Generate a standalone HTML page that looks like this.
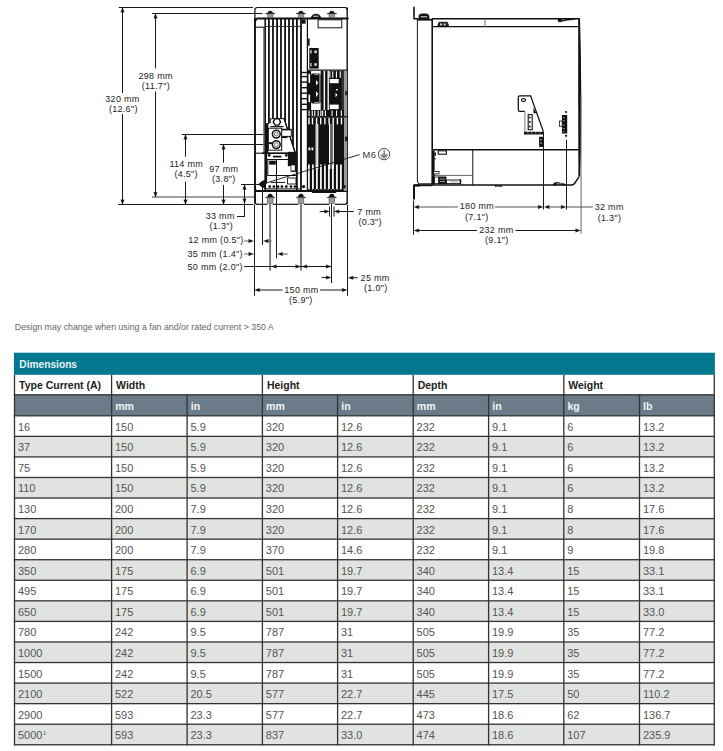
<!DOCTYPE html>
<html><head><meta charset="utf-8"><style>
html,body{margin:0;padding:0;background:#fff;}
body{width:723px;height:751px;position:relative;overflow:hidden;font-family:"Liberation Sans",sans-serif;}
.note{position:absolute;left:14.8px;top:322px;font-size:8.8px;color:#666;white-space:nowrap;}
.th1{position:absolute;font-size:10.2px;font-weight:bold;color:#e8f4f6;white-space:nowrap;line-height:12px;}
.th2{position:absolute;font-size:10.5px;font-weight:bold;color:#222;white-space:nowrap;line-height:12px;}
.th3{position:absolute;font-size:10.6px;font-weight:bold;color:#f2f4f6;white-space:nowrap;line-height:12px;}
.td{position:absolute;font-size:11px;color:#555;white-space:nowrap;line-height:12px;}
.td sup{font-size:6px;vertical-align:top;position:relative;top:-2.5px;margin-left:0.5px;}
</style></head><body>
<svg width="723" height="310" viewBox="0 0 723 310" style="position:absolute;left:0;top:0" font-family="Liberation Sans, sans-serif"><line x1="118.8" y1="7.5" x2="253" y2="7.5" stroke="#1a1a1a" stroke-width="1.0"/><line x1="118" y1="204.5" x2="253.5" y2="204.5" stroke="#1a1a1a" stroke-width="1.0"/><line x1="122.5" y1="8" x2="122.5" y2="93" stroke="#1a1a1a" stroke-width="1.0"/><line x1="122.5" y1="114" x2="122.5" y2="204" stroke="#1a1a1a" stroke-width="1.0"/><polygon points="122.50,7.50 120.75,12.30 122.50,12.00 124.25,12.30" fill="#111" stroke="#111" stroke-width="0.3"/><polygon points="122.50,204.50 120.75,199.70 122.50,200.00 124.25,199.70" fill="#111" stroke="#111" stroke-width="0.3"/><line x1="152" y1="13.5" x2="262.5" y2="13.5" stroke="#1a1a1a" stroke-width="1.0"/><line x1="152" y1="197" x2="254" y2="197" stroke="#444" stroke-width="1.0"/><line x1="155.5" y1="14" x2="155.5" y2="68.5" stroke="#1a1a1a" stroke-width="1.0"/><line x1="155.5" y1="91.5" x2="155.5" y2="196.5" stroke="#1a1a1a" stroke-width="1.0"/><polygon points="155.50,13.50 153.75,18.30 155.50,18.00 157.25,18.30" fill="#111" stroke="#111" stroke-width="0.3"/><polygon points="155.50,197.00 153.75,192.20 155.50,192.50 157.25,192.20" fill="#111" stroke="#111" stroke-width="0.3"/><line x1="181.7" y1="134.5" x2="264.5" y2="134.5" stroke="#1a1a1a" stroke-width="1.0"/><line x1="185.5" y1="135" x2="185.5" y2="156.7" stroke="#1a1a1a" stroke-width="1.0"/><line x1="185.5" y1="181.6" x2="185.5" y2="204" stroke="#1a1a1a" stroke-width="1.0"/><polygon points="185.50,134.50 183.75,139.30 185.50,139.00 187.25,139.30" fill="#111" stroke="#111" stroke-width="0.3"/><polygon points="185.50,204.50 183.75,199.70 185.50,200.00 187.25,199.70" fill="#111" stroke="#111" stroke-width="0.3"/><line x1="219.7" y1="144.5" x2="264.5" y2="144.5" stroke="#1a1a1a" stroke-width="1.0"/><line x1="223.5" y1="145" x2="223.5" y2="162.7" stroke="#1a1a1a" stroke-width="1.0"/><line x1="223.5" y1="185" x2="223.5" y2="204" stroke="#1a1a1a" stroke-width="1.0"/><polygon points="223.50,144.50 221.75,149.30 223.50,149.00 225.25,149.30" fill="#111" stroke="#111" stroke-width="0.3"/><polygon points="223.50,204.50 221.75,199.70 223.50,200.00 225.25,199.70" fill="#111" stroke="#111" stroke-width="0.3"/><line x1="241.1" y1="184.5" x2="259" y2="184.5" stroke="#1a1a1a" stroke-width="1.0"/><line x1="244.5" y1="185" x2="244.5" y2="216.5" stroke="#1a1a1a" stroke-width="1.0"/><line x1="237" y1="216.5" x2="245" y2="216.5" stroke="#1a1a1a" stroke-width="1.0"/><polygon points="244.50,184.80 242.75,189.60 244.50,189.30 246.25,189.60" fill="#111" stroke="#111" stroke-width="0.3"/><polygon points="244.50,203.50 242.75,198.70 244.50,199.00 246.25,198.70" fill="#111" stroke="#111" stroke-width="0.3"/><line x1="254.5" y1="205" x2="254.5" y2="295.8" stroke="#1a1a1a" stroke-width="1.0"/><line x1="347.5" y1="205" x2="347.5" y2="295.8" stroke="#1a1a1a" stroke-width="1.0"/><line x1="262.5" y1="186" x2="262.5" y2="245" stroke="#1a1a1a" stroke-width="1.0"/><line x1="276.5" y1="159" x2="276.5" y2="258.4" stroke="#1a1a1a" stroke-width="1.0"/><line x1="270.1" y1="203.5" x2="270.1" y2="270.6" stroke="#7a7a7a" stroke-width="1.9"/><line x1="301.0" y1="203.5" x2="301.0" y2="270.4" stroke="#7a7a7a" stroke-width="1.9"/><line x1="331.5" y1="203.5" x2="331.5" y2="283" stroke="#1a1a1a" stroke-width="1.0"/><line x1="244.1" y1="241" x2="250" y2="241" stroke="#666" stroke-width="1.0"/><polygon points="253.40,241.00 248.60,239.25 248.90,241.00 248.60,242.75" fill="#111" stroke="#111" stroke-width="0.3"/><line x1="266" y1="241" x2="271.6" y2="241" stroke="#555" stroke-width="1.0"/><polygon points="263.60,241.00 268.40,239.25 268.10,241.00 268.40,242.75" fill="#111" stroke="#111" stroke-width="0.3"/><line x1="244.1" y1="254" x2="250" y2="254" stroke="#666" stroke-width="1.0"/><polygon points="253.40,254.00 248.60,252.25 248.90,254.00 248.60,255.75" fill="#111" stroke="#111" stroke-width="0.3"/><line x1="281" y1="254" x2="287.7" y2="254" stroke="#555" stroke-width="1.0"/><polygon points="277.80,254.00 282.60,252.25 282.30,254.00 282.60,255.75" fill="#111" stroke="#111" stroke-width="0.3"/><line x1="244.1" y1="266.5" x2="331" y2="266.5" stroke="#1a1a1a" stroke-width="1.0"/><polygon points="271.60,266.50 276.40,264.75 276.10,266.50 276.40,268.25" fill="#111" stroke="#111" stroke-width="0.3"/><polygon points="300.40,266.50 295.60,264.75 295.90,266.50 295.60,268.25" fill="#111" stroke="#111" stroke-width="0.3"/><polygon points="302.20,266.50 307.00,264.75 306.70,266.50 307.00,268.25" fill="#111" stroke="#111" stroke-width="0.3"/><polygon points="330.90,266.50 326.10,264.75 326.40,266.50 326.10,268.25" fill="#111" stroke="#111" stroke-width="0.3"/><line x1="329.5" y1="206.5" x2="329.5" y2="216.6" stroke="#1a1a1a" stroke-width="1.0"/><line x1="334.0" y1="206.5" x2="334.0" y2="216.6" stroke="#1a1a1a" stroke-width="1.0"/><line x1="319.7" y1="211.5" x2="326" y2="211.5" stroke="#1a1a1a" stroke-width="1.0"/><polygon points="329.30,211.50 324.50,209.75 324.80,211.50 324.50,213.25" fill="#111" stroke="#111" stroke-width="0.3"/><line x1="337" y1="211.5" x2="353.8" y2="211.5" stroke="#1a1a1a" stroke-width="1.0"/><polygon points="334.30,211.50 339.10,209.75 338.80,211.50 339.10,213.25" fill="#111" stroke="#111" stroke-width="0.3"/><line x1="321.6" y1="277.5" x2="328" y2="277.5" stroke="#1a1a1a" stroke-width="1.0"/><polygon points="330.90,277.50 326.10,275.75 326.40,277.50 326.10,279.25" fill="#111" stroke="#111" stroke-width="0.3"/><line x1="351" y1="277.8" x2="357.6" y2="277.8" stroke="#1a1a1a" stroke-width="1.0"/><polygon points="348.40,277.80 353.20,276.05 352.90,277.80 353.20,279.55" fill="#111" stroke="#111" stroke-width="0.3"/><line x1="256" y1="290" x2="282.5" y2="290" stroke="#1a1a1a" stroke-width="1.0"/><line x1="320.1" y1="290" x2="345" y2="290" stroke="#1a1a1a" stroke-width="1.0"/><polygon points="254.90,290.00 259.70,288.25 259.40,290.00 259.70,291.75" fill="#111" stroke="#111" stroke-width="0.3"/><polygon points="346.90,290.00 342.10,288.25 342.40,290.00 342.10,291.75" fill="#111" stroke="#111" stroke-width="0.3"/><path d="M254.9,204.3 L254.9,10 Q254.9,7.5 257.4,7.5 L344.8,7.5 Q347.3,7.5 347.3,10" fill="none" stroke="#111" stroke-width="1.2"/><line x1="257" y1="204.3" x2="267.2" y2="204.3" stroke="#111" stroke-width="1.2"/><line x1="272.8" y1="204.3" x2="298.2" y2="204.3" stroke="#111" stroke-width="1.2"/><line x1="303.8" y1="204.3" x2="329.2" y2="204.3" stroke="#111" stroke-width="1.2"/><line x1="334.8" y1="204.3" x2="345" y2="204.3" stroke="#111" stroke-width="1.2"/><path d="M254.9,201.5 Q254.9,204.3 257.4,204.3" fill="none" stroke="#111" stroke-width="1.2"/><path d="M345,204.3 Q347.3,204.3 347.3,202" fill="none" stroke="#111" stroke-width="1.2"/><line x1="255.0" y1="18" x2="255.0" y2="202" stroke="#111" stroke-width="1.8"/><line x1="263.8" y1="27.5" x2="263.8" y2="153" stroke="#777" stroke-width="1.4"/><line x1="265.2" y1="18" x2="265.2" y2="191" stroke="#111" stroke-width="1.6"/><line x1="255" y1="27.2" x2="265" y2="27.2" stroke="#111" stroke-width="1.1"/><line x1="255" y1="153.2" x2="265" y2="153.2" stroke="#111" stroke-width="1.1"/><rect x="254.4" y="18" width="2.5" height="2.8" fill="#111"/><line x1="256.5" y1="18.5" x2="348.6" y2="18.5" stroke="#111" stroke-width="2.0"/><path d="M267.59999999999997,13.0 Q267.8,11.0 270.2,10.9 Q272.59999999999997,11.0 272.8,13.0 L274.9,13.6 L274.9,13.899999999999999 L265.5,13.899999999999999 L265.5,13.6 Z" fill="#111" stroke="#111" stroke-width="0.3"/><rect x="267.4" y="13.899999999999999" width="5.6" height="3.6" fill="#999" stroke="#555" stroke-width="0.6"/><rect x="269.5" y="10.0" width="1.4" height="1.0" fill="#ccc"/><path d="M298.4,13.0 Q298.6,11.0 301.0,10.9 Q303.4,11.0 303.6,13.0 L305.7,13.6 L305.7,13.899999999999999 L296.3,13.899999999999999 L296.3,13.6 Z" fill="#111" stroke="#111" stroke-width="0.3"/><rect x="298.2" y="13.899999999999999" width="5.6" height="3.6" fill="#999" stroke="#555" stroke-width="0.6"/><rect x="300.3" y="10.0" width="1.4" height="1.0" fill="#ccc"/><path d="M329.2,13.0 Q329.40000000000003,11.0 331.8,10.9 Q334.2,11.0 334.40000000000003,13.0 L336.5,13.6 L336.5,13.899999999999999 L327.1,13.899999999999999 L327.1,13.6 Z" fill="#111" stroke="#111" stroke-width="0.3"/><rect x="329.0" y="13.899999999999999" width="5.6" height="3.6" fill="#999" stroke="#555" stroke-width="0.6"/><rect x="331.1" y="10.0" width="1.4" height="1.0" fill="#ccc"/><path d="M311.3,18 Q311.6,14.3 316,14.1 Q320.4,14.3 320.7,18 Z" fill="#111" stroke="#111" stroke-width="0.5"/><rect x="313.2" y="15.7" width="5.2" height="1.1" fill="#ccc"/><line x1="268.9" y1="18.5" x2="268.9" y2="191" stroke="#111" stroke-width="1.8"/><line x1="273.0" y1="18.5" x2="273.0" y2="191" stroke="#111" stroke-width="1.8"/><line x1="277.1" y1="18.5" x2="277.1" y2="191" stroke="#111" stroke-width="1.8"/><line x1="281.0" y1="18.5" x2="281.0" y2="191" stroke="#111" stroke-width="1.8"/><line x1="285.1" y1="18.5" x2="285.1" y2="191" stroke="#111" stroke-width="1.8"/><line x1="289.0" y1="18.5" x2="289.0" y2="191" stroke="#111" stroke-width="1.8"/><line x1="293.0" y1="18.5" x2="293.0" y2="191" stroke="#111" stroke-width="1.8"/><line x1="296.9" y1="18.5" x2="296.9" y2="191" stroke="#111" stroke-width="1.8"/><line x1="301.0" y1="18.5" x2="301.0" y2="191" stroke="#111" stroke-width="1.8"/><line x1="265" y1="26.4" x2="301" y2="26.4" stroke="#222" stroke-width="0.9"/><rect x="301.8" y="19.6" width="3.8" height="4.1" fill="#111"/><polygon points="266.20,123.60 268.50,123.60 268.50,122.80 270.30,122.80 270.30,118.80 284.10,118.60 295.40,153.20 266.20,153.20" fill="#fff" stroke="#111" stroke-width="1.0"/><line x1="284.1" y1="118.6" x2="295.4" y2="153.2" stroke="#111" stroke-width="1.3"/><line x1="270.3" y1="126.6" x2="283.6" y2="126.6" stroke="#111" stroke-width="1.1"/><polygon points="280.60,121.90 278.75,125.10 275.05,125.10 273.20,121.90 275.05,118.70 278.75,118.70" fill="#fff" stroke="#111" stroke-width="1.4"/><rect x="281.4" y="129.4" width="9.9" height="7.0" fill="#fff" stroke="#111" stroke-width="1.0"/><line x1="281.4" y1="129.6" x2="290.5" y2="129.6" stroke="#111" stroke-width="1.6"/><rect x="281.4" y="136.3" width="6" height="1.8" fill="#111"/><rect x="268.3" y="128.2" width="13.4" height="22.0" fill="#fff" stroke="#111" stroke-width="1.0"/><circle cx="276.3" cy="134.1" r="3.9" fill="#fff" stroke="#111" stroke-width="1.5"/><circle cx="276.3" cy="134.1" r="1.9" fill="none" stroke="#444" stroke-width="0.8"/><circle cx="276.3" cy="144.6" r="3.9" fill="#fff" stroke="#111" stroke-width="1.5"/><circle cx="276.3" cy="144.6" r="1.9" fill="none" stroke="#444" stroke-width="0.8"/><rect x="268.6" y="142.2" width="3.9" height="1.9" fill="#111"/><rect x="265.5" y="124" width="2.8" height="29" fill="#111"/><rect x="266.5" y="153.5" width="29.5" height="37" fill="#fff"/><line x1="262" y1="153.3" x2="296" y2="153.3" stroke="#111" stroke-width="1.4"/><line x1="266.3" y1="153.3" x2="266.3" y2="183.5" stroke="#111" stroke-width="1.6"/><circle cx="269.2" cy="155.3" r="1.4" fill="#111" stroke="none" stroke-width="0.9"/><circle cx="286.3" cy="155.3" r="1.4" fill="#111" stroke="none" stroke-width="0.9"/><rect x="273" y="155.7" width="8.4" height="1.8" fill="#111"/><line x1="267" y1="159.5" x2="288" y2="159.5" stroke="#111" stroke-width="1.0"/><line x1="267.8" y1="159.5" x2="267.8" y2="175.4" stroke="#111" stroke-width="1.0"/><rect x="269.2" y="160.7" width="6.6" height="3.9" fill="#111"/><path d="M288,151.9 L297,151.9 L297,171.8 L290.8,171.8 L290.8,166 L288,166 Z" fill="#111" stroke="#111" stroke-width="0.3"/><rect x="291.3" y="165.3" width="3.5" height="5.2" fill="#fff"/><line x1="267.5" y1="175.5" x2="297" y2="175.5" stroke="#111" stroke-width="1.0"/><line x1="270.8" y1="182.4" x2="285.2" y2="182.4" stroke="#111" stroke-width="1.0"/><circle cx="269.7" cy="186.6" r="1.4" fill="#111" stroke="none" stroke-width="0.9"/><circle cx="273.9" cy="186.6" r="1.4" fill="#111" stroke="none" stroke-width="0.9"/><circle cx="278" cy="186.6" r="1.4" fill="#111" stroke="none" stroke-width="0.9"/><circle cx="281.9" cy="186.6" r="1.4" fill="#111" stroke="none" stroke-width="0.9"/><circle cx="286.3" cy="186.6" r="1.4" fill="#111" stroke="none" stroke-width="0.9"/><circle cx="291" cy="186.6" r="1.4" fill="#111" stroke="none" stroke-width="0.9"/><circle cx="295" cy="186.6" r="1.4" fill="#111" stroke="none" stroke-width="0.9"/><line x1="266" y1="188.9" x2="300" y2="188.9" stroke="#333" stroke-width="1.3"/><rect x="287.5" y="178" width="8.5" height="6" fill="#fff" stroke="#111" stroke-width="0.9"/><rect x="254.5" y="189.2" width="1.9" height="1.9" fill="#111"/><line x1="276.5" y1="159.5" x2="276.5" y2="191" stroke="#111" stroke-width="1.0"/><polygon points="258.40,184.20 262.00,181.20 265.80,179.60 264.80,184.20 265.80,188.80 262.00,187.20" fill="#111" stroke="#111" stroke-width="0.4"/><line x1="254.6" y1="191.0" x2="348" y2="191.0" stroke="#111" stroke-width="2.0"/><rect x="312" y="191.5" width="24.1" height="1.5" fill="#111"/><line x1="307.4" y1="18.5" x2="307.4" y2="191" stroke="#111" stroke-width="1.2"/><line x1="347.2" y1="7.5" x2="347.2" y2="204" stroke="#111" stroke-width="1.4"/><rect x="318.1" y="19.8" width="23.7" height="8.0" fill="#fff" stroke="#111" stroke-width="1.0"/><rect x="307.7" y="38.5" width="2" height="7.3" fill="#222"/><rect x="309.3" y="48" width="9.4" height="20.6" fill="#111"/><rect x="310.4" y="50" width="1.1" height="3.5" fill="#fff"/><rect x="310.4" y="63" width="1.1" height="3.5" fill="#fff"/><rect x="314.3" y="50.5" width="2.6" height="2.6" fill="#ccc"/><rect x="314.3" y="63.2" width="2.6" height="2.6" fill="#ccc"/><line x1="307.4" y1="70.2" x2="347.2" y2="70.2" stroke="#111" stroke-width="1.2"/><line x1="301.5" y1="72.5" x2="307.4" y2="72.5" stroke="#111" stroke-width="1.4"/><line x1="301.5" y1="76.6" x2="307.4" y2="76.6" stroke="#111" stroke-width="1.4"/><line x1="301.5" y1="82.1" x2="307.4" y2="82.1" stroke="#111" stroke-width="1.4"/><line x1="301.5" y1="87.7" x2="307.4" y2="87.7" stroke="#111" stroke-width="1.4"/><line x1="301.5" y1="93.2" x2="307.4" y2="93.2" stroke="#111" stroke-width="1.4"/><line x1="301.5" y1="98.7" x2="307.4" y2="98.7" stroke="#111" stroke-width="1.4"/><line x1="301.5" y1="104.3" x2="307.4" y2="104.3" stroke="#111" stroke-width="1.4"/><line x1="301.5" y1="109.6" x2="307.4" y2="109.6" stroke="#111" stroke-width="1.4"/><rect x="307.9" y="70.8" width="3.2" height="46" fill="#111"/><rect x="308.5" y="73.8" width="1.6" height="9" fill="#fff"/><rect x="308.5" y="94.6" width="1.6" height="7.6" fill="#fff"/><rect x="311" y="73.5" width="9.7" height="30.1" fill="#111" rx="1.8"/><path d="M314.5,74.6 L318.8,74.6 Q319.8,74.6 319.8,75.6 L319.8,101.5 Q319.8,102.5 318.8,102.5 L314.5,102.5" fill="none" stroke="#ddd" stroke-width="0.7"/><polygon points="316.00,80.00 318.30,82.80 316.00,85.60" fill="#fff"/><polygon points="316.00,91.00 318.30,94.10 316.00,97.30" fill="#fff"/><rect x="320.7" y="70.8" width="2.9" height="46" fill="#111"/><rect x="324.2" y="70.8" width="0.9" height="46" fill="#eee"/><rect x="325.1" y="70.8" width="2.6" height="46" fill="#111"/><rect x="327.7" y="70.8" width="1.3" height="46" fill="#ddd"/><rect x="329" y="70.8" width="15.3" height="46" fill="#111"/><rect x="329.3" y="71.3" width="1.1" height="6.5" fill="#fff"/><rect x="332.2" y="71.3" width="1.1" height="6.5" fill="#fff"/><rect x="335.9" y="71.3" width="1.1" height="6.5" fill="#fff"/><rect x="339.7" y="71.3" width="1.1" height="6.5" fill="#fff"/><rect x="329.7" y="79" width="9" height="4.2" fill="#fff"/><rect x="336" y="89" width="1.7" height="1.4" fill="#fff"/><polygon points="335.50,92.80 337.50,95.00 335.50,97.20" fill="#fff"/><rect x="329.7" y="104.6" width="9" height="4.5" fill="#fff"/><rect x="341.5" y="70.8" width="2.5" height="46" fill="#333"/><rect x="344.0" y="70.8" width="2.8" height="120.2" fill="#9a9a9a"/><rect x="345.3" y="91" width="1.5" height="4.3" fill="#111"/><line x1="307.4" y1="117" x2="347.2" y2="117" stroke="#111" stroke-width="1.3"/><rect x="308" y="110" width="36" height="6.4" fill="#111"/><rect x="308.5" y="110.5" width="1.1" height="5.5" fill="#fff"/><rect x="311.7" y="110.5" width="1.1" height="5.5" fill="#fff"/><rect x="314.2" y="110.5" width="1.1" height="5.5" fill="#fff"/><rect x="317.6" y="110.5" width="1.1" height="5.5" fill="#fff"/><rect x="320.3" y="110.5" width="1.1" height="5.5" fill="#fff"/><rect x="322.1" y="110.5" width="1.1" height="5.5" fill="#fff"/><rect x="324.9" y="110.5" width="1.1" height="5.5" fill="#fff"/><rect x="331.5" y="110.5" width="1.1" height="5.5" fill="#fff"/><rect x="336" y="110.5" width="1.1" height="5.5" fill="#fff"/><rect x="340.8" y="110.5" width="1.1" height="5.5" fill="#fff"/><rect x="307.6" y="117.6" width="36.7" height="73" fill="#111"/><rect x="344.0" y="117.6" width="2.8" height="73" fill="#9a9a9a"/><rect x="345.2" y="136.6" width="2.0" height="4.6" fill="#111"/><rect x="308.3" y="117.9" width="1.4" height="6.5" fill="#fff"/><rect x="311.8" y="117.9" width="1.4" height="6.5" fill="#fff"/><rect x="315.9" y="117.9" width="1.4" height="6.5" fill="#fff"/><rect x="320" y="117.9" width="1.4" height="6.5" fill="#fff"/><rect x="324.2" y="117.9" width="1.4" height="6.5" fill="#fff"/><rect x="328.4" y="117.9" width="1.4" height="6.5" fill="#fff"/><rect x="332.5" y="117.9" width="1.4" height="6.5" fill="#fff"/><rect x="336.7" y="117.9" width="1.4" height="6.5" fill="#fff"/><rect x="340.8" y="117.9" width="1.4" height="6.5" fill="#fff"/><rect x="315.6" y="124" width="2.7" height="45" fill="#fff"/><line x1="316.9" y1="124" x2="316.9" y2="169" stroke="#888" stroke-width="0.7"/><rect x="329" y="124" width="1.4" height="45" fill="#fff"/><rect x="332.5" y="124" width="1.4" height="45" fill="#fff"/><rect x="330.4" y="124" width="2.1" height="45" fill="#666"/><rect x="308.5" y="147.5" width="1.8" height="2.8" fill="#fff"/><rect x="311.5" y="147.5" width="1.8" height="2.8" fill="#fff"/><rect x="308.04999999999995" y="164.5" width="1.7" height="24.5" fill="#fff"/><rect x="312.04999999999995" y="164.5" width="1.7" height="24.5" fill="#fff"/><rect x="316.04999999999995" y="164.5" width="1.7" height="24.5" fill="#fff"/><rect x="320.04999999999995" y="164.5" width="1.7" height="24.5" fill="#fff"/><rect x="324.04999999999995" y="164.5" width="1.7" height="24.5" fill="#fff"/><rect x="328.04999999999995" y="164.5" width="1.7" height="24.5" fill="#fff"/><rect x="332.04999999999995" y="164.5" width="1.7" height="24.5" fill="#fff"/><rect x="336.04999999999995" y="164.5" width="1.7" height="24.5" fill="#fff"/><rect x="340.04999999999995" y="164.5" width="1.7" height="24.5" fill="#fff"/><rect x="308.8" y="189.0" width="1.2" height="0.8" fill="#aaa"/><rect x="311.90000000000003" y="189.0" width="1.2" height="0.8" fill="#aaa"/><rect x="315.0" y="189.0" width="1.2" height="0.8" fill="#aaa"/><rect x="318.1" y="189.0" width="1.2" height="0.8" fill="#aaa"/><rect x="321.2" y="189.0" width="1.2" height="0.8" fill="#aaa"/><rect x="324.3" y="189.0" width="1.2" height="0.8" fill="#aaa"/><rect x="327.40000000000003" y="189.0" width="1.2" height="0.8" fill="#aaa"/><rect x="330.5" y="189.0" width="1.2" height="0.8" fill="#aaa"/><rect x="333.6" y="189.0" width="1.2" height="0.8" fill="#aaa"/><rect x="336.7" y="189.0" width="1.2" height="0.8" fill="#aaa"/><rect x="339.8" y="189.0" width="1.2" height="0.8" fill="#aaa"/><rect x="342.90000000000003" y="189.0" width="1.2" height="0.8" fill="#aaa"/><circle cx="303.6" cy="186.6" r="1.6" fill="#111" stroke="none" stroke-width="0.9"/><circle cx="344.2" cy="186.6" r="1.6" fill="#111" stroke="none" stroke-width="0.9"/><path d="M267.59999999999997,196.4 Q267.8,194.0 270.2,193.8 Q272.59999999999997,194.0 272.8,196.4 L274.9,197.4 L274.9,197.8 L265.5,197.8 L265.5,197.4 Z" fill="#111" stroke="#111" stroke-width="0.3"/><rect x="267.4" y="197.8" width="5.6" height="5.6" fill="#999" stroke="#555" stroke-width="0.6"/><path d="M298.4,196.4 Q298.6,194.0 301.0,193.8 Q303.4,194.0 303.6,196.4 L305.7,197.4 L305.7,197.8 L296.3,197.8 L296.3,197.4 Z" fill="#111" stroke="#111" stroke-width="0.3"/><rect x="298.2" y="197.8" width="5.6" height="5.6" fill="#999" stroke="#555" stroke-width="0.6"/><path d="M329.2,196.4 Q329.40000000000003,194.0 331.8,193.8 Q334.2,194.0 334.40000000000003,196.4 L336.5,197.4 L336.5,197.8 L327.1,197.8 L327.1,197.4 Z" fill="#111" stroke="#111" stroke-width="0.3"/><rect x="329.0" y="197.8" width="5.6" height="5.6" fill="#999" stroke="#555" stroke-width="0.6"/><line x1="262" y1="184.2" x2="359.5" y2="154.6" stroke="#111" stroke-width="0.9"/><circle cx="384.1" cy="154.1" r="5.7" fill="#fff" stroke="#222" stroke-width="0.8"/><line x1="384.1" y1="149.8" x2="384.1" y2="155.0" stroke="#222" stroke-width="0.8"/><line x1="380.4" y1="155.0" x2="387.8" y2="155.0" stroke="#222" stroke-width="0.8"/><line x1="381.5" y1="156.6" x2="386.7" y2="156.6" stroke="#222" stroke-width="0.8"/><line x1="382.6" y1="158.0" x2="385.6" y2="158.0" stroke="#222" stroke-width="0.7"/><path d="M414,6.8 L414,18.8 L418.3,18.8" fill="none" stroke="#111" stroke-width="1.6"/><line x1="417.4" y1="19.5" x2="417.4" y2="181" stroke="#111" stroke-width="1.0"/><path d="M417.4,181 Q417.4,183.8 419.8,183.8 L432,183.8" fill="none" stroke="#111" stroke-width="1.0"/><line x1="432.2" y1="18.5" x2="432.2" y2="185.3" stroke="#111" stroke-width="1.6"/><path d="M418.6,19.6 L419.0,15.6 Q419.3,13.8 422,13.8 L426,13.8 Q428.6,13.8 428.9,15.6 L429.3,19.6 Z" fill="#111" stroke="#111" stroke-width="0.5"/><rect x="420.6" y="16.0" width="6.6" height="1.6" fill="#999"/><line x1="417.6" y1="19.8" x2="432" y2="19.8" stroke="#111" stroke-width="1.6"/><line x1="432" y1="18.7" x2="579.8" y2="18.7" stroke="#111" stroke-width="1.5"/><line x1="432" y1="26.6" x2="578.2" y2="26.6" stroke="#111" stroke-width="1.2"/><line x1="485" y1="18.7" x2="485" y2="26.6" stroke="#777" stroke-width="1.0"/><path d="M437.5,26.6 L439,22.3 L447.3,22.3 L448.8,26.6 Z" fill="#222" stroke="#111" stroke-width="0.9"/><rect x="440.0" y="23.5" width="2.0" height="1.8" fill="#ddd"/><rect x="443.6" y="23.5" width="2.0" height="1.8" fill="#ddd"/><path d="M558,18.6 L576,18.6 L574,19.6 L566,20.6 L560,21.9 L558,21.5 Z" fill="#111" stroke="#111" stroke-width="0.4"/><path d="M561,19.5 L566,19.2 L562,20.4 Z" fill="#999" stroke="#111" stroke-width="0"/><polygon points="578.20,18.40 580.00,18.40 580.80,50.00 581.30,100.00 581.00,150.00 580.20,176.60 578.40,176.60 578.20,100.00" fill="#111"/><rect x="580.6" y="95" width="1.0" height="80" fill="#888"/><path d="M579.2,176.6 L574.5,183.5 Q573.6,184.9 572,184.9" fill="none" stroke="#111" stroke-width="1.4"/><line x1="432" y1="149.8" x2="578.6" y2="149.8" stroke="#111" stroke-width="1.6"/><line x1="414" y1="185.2" x2="432" y2="185.2" stroke="#111" stroke-width="2.0"/><line x1="432" y1="185.0" x2="572.5" y2="185.0" stroke="#111" stroke-width="1.4"/><line x1="472.8" y1="150" x2="472.8" y2="185.0" stroke="#111" stroke-width="1.0"/><line x1="432" y1="175.4" x2="472.8" y2="175.4" stroke="#555" stroke-width="0.9"/><rect x="438.2" y="150.8" width="8.2" height="3.4" fill="#fff" stroke="#111" stroke-width="1.1"/><rect x="432.8" y="150.5" width="1.8" height="34" fill="#111"/><rect x="434.4" y="152.5" width="1.6" height="3.2" fill="#111"/><rect x="434.4" y="158" width="1.2" height="1.5" fill="#111"/><rect x="433.5" y="171.5" width="5.5" height="2.4" fill="#fff" stroke="#111" stroke-width="0.8"/><rect x="434.5" y="177" width="4" height="6.5" fill="#fff" stroke="#111" stroke-width="0.8"/><rect x="438.4" y="176.5" width="8" height="7.6" fill="#111"/><rect x="439.6" y="178.5" width="5.5" height="1" fill="#999"/><rect x="439.6" y="181" width="5.5" height="1" fill="#999"/><rect x="446.4" y="180.0" width="14.2" height="3.6" fill="#fff" stroke="#111" stroke-width="0.9"/><line x1="450" y1="181.8" x2="458" y2="181.8" stroke="#777" stroke-width="0.6"/><rect x="459.6" y="179.4" width="1.6" height="4.8" fill="#111"/><rect x="495.6" y="185.3" width="6.2" height="1.4" fill="none" stroke="#111" stroke-width="0.6"/><path d="M553,184.6 Q554,182.1 557,182.3 Q562,183 566.5,184.9 L553,184.9 Z" fill="#111" stroke="#111" stroke-width="0.5"/><rect x="556" y="183.5" width="6" height="0.7" fill="#ccc"/><path d="M518.3,97.3 Q518.3,95.9 519.7,95.9 L530.6,95.9 L543.4,131.6" fill="none" stroke="#111" stroke-width="1.3"/><path d="M518.3,97.3 L518.3,110 Q518.3,111.3 519.6,111.3 L524.9,111.3" fill="none" stroke="#111" stroke-width="1.3"/><line x1="524.9" y1="111.3" x2="524.9" y2="132" stroke="#777" stroke-width="1.0"/><rect x="524" y="131.8" width="19.8" height="2.7" fill="#111"/><rect x="527" y="132.7" width="1.5" height="0.8" fill="#aaa"/><rect x="531" y="132.7" width="1.5" height="0.8" fill="#aaa"/><rect x="535" y="132.7" width="1.5" height="0.8" fill="#aaa"/><rect x="539" y="132.7" width="1.5" height="0.8" fill="#aaa"/><path d="M521.4,100.1 a2.1,1.5 0 1,0 4.2,0 a2.1,1.5 0 1,0 -4.2,0 Z" fill="none" stroke="#111" stroke-width="1.1"/><polygon points="533.30,107.50 536.40,113.30 533.50,113.30" fill="#111"/><rect x="528.2" y="114.6" width="4.0" height="15.1" fill="#fff" stroke="#111" stroke-width="1.1"/><polygon points="529.20,116.30 531.30,117.50 529.20,118.70" fill="#111"/><polygon points="529.20,120.80 531.30,122.00 529.20,123.20" fill="#111"/><polygon points="529.20,125.30 531.30,126.50 529.20,127.70" fill="#111"/><rect x="539.1" y="136.8" width="4.7" height="10.1" fill="#111"/><rect x="540.3" y="139" width="1.3" height="1.3" fill="#ccc"/><rect x="540.3" y="142.5" width="1.3" height="1.3" fill="#ccc"/><rect x="562" y="115" width="5.2" height="18.5" fill="#111"/><circle cx="566" cy="112" r="1.1" fill="#111" stroke="none" stroke-width="0.9"/><circle cx="566" cy="135.8" r="1.1" fill="#111" stroke="none" stroke-width="0.9"/><rect x="559.6" y="121" width="2.6" height="5.3" fill="#fff" stroke="#111" stroke-width="0.8"/><rect x="563.2" y="117" width="1.4" height="1.2" fill="#999"/><rect x="563.2" y="120" width="1.4" height="1.2" fill="#999"/><rect x="563.2" y="124.5" width="1.4" height="1.2" fill="#999"/><rect x="563.2" y="128" width="1.4" height="1.2" fill="#999"/><rect x="563.2" y="131" width="1.4" height="1.2" fill="#999"/><line x1="543.5" y1="132" x2="543.5" y2="209.6" stroke="#1a1a1a" stroke-width="1.0"/><line x1="566.5" y1="139.8" x2="566.5" y2="209.6" stroke="#1a1a1a" stroke-width="1.0"/><line x1="413.5" y1="200.5" x2="413.5" y2="234.8" stroke="#1a1a1a" stroke-width="1.0"/><path d="M414,199.4 L414,185.6 L420,185.6" fill="none" stroke="#111" stroke-width="2.0"/><line x1="581.1" y1="175" x2="581.1" y2="233.8" stroke="#666" stroke-width="1.0"/><line x1="416" y1="207" x2="458" y2="207" stroke="#555" stroke-width="1.0"/><line x1="495" y1="207" x2="541" y2="207" stroke="#555" stroke-width="1.0"/><polygon points="414.20,207.00 419.00,205.25 418.70,207.00 419.00,208.75" fill="#111" stroke="#111" stroke-width="0.3"/><polygon points="542.90,207.00 538.10,205.25 538.40,207.00 538.10,208.75" fill="#111" stroke="#111" stroke-width="0.3"/><line x1="546" y1="207" x2="563" y2="207" stroke="#555" stroke-width="1.0"/><polygon points="544.60,207.00 549.40,205.25 549.10,207.00 549.40,208.75" fill="#111" stroke="#111" stroke-width="0.3"/><polygon points="565.80,207.00 561.00,205.25 561.30,207.00 561.00,208.75" fill="#111" stroke="#111" stroke-width="0.3"/><line x1="567" y1="207" x2="592.8" y2="207" stroke="#555" stroke-width="1.0"/><line x1="416" y1="230.5" x2="477" y2="230.5" stroke="#1a1a1a" stroke-width="1.0"/><line x1="515.5" y1="230.5" x2="578" y2="230.5" stroke="#1a1a1a" stroke-width="1.0"/><polygon points="414.20,230.50 419.00,228.75 418.70,230.50 419.00,232.25" fill="#111" stroke="#111" stroke-width="0.3"/><polygon points="580.30,230.50 575.50,228.75 575.80,230.50 575.50,232.25" fill="#111" stroke="#111" stroke-width="0.3"/><text x="105.3" y="102.0" font-size="9.0" letter-spacing="0.3" fill="#222">320 mm</text><text x="108.9" y="112.0" font-size="9.0" letter-spacing="0.3" fill="#222">(12.6&quot;)</text><text x="138.5" y="79.1" font-size="9.0" letter-spacing="0.3" fill="#222">298 mm</text><text x="141.8" y="88.8" font-size="9.0" letter-spacing="0.3" fill="#222">(11.7&quot;)</text><text x="169.4" y="166.8" font-size="9.0" letter-spacing="0.3" fill="#222">114 mm</text><text x="174.4" y="177.0" font-size="9.0" letter-spacing="0.3" fill="#222">(4.5&quot;)</text><text x="209.3" y="171.8" font-size="9.0" letter-spacing="0.3" fill="#222">97 mm</text><text x="212.0" y="181.7" font-size="9.0" letter-spacing="0.3" fill="#222">(3.8&quot;)</text><text x="205.7" y="218.9" font-size="9.0" letter-spacing="0.3" fill="#222">33 mm</text><text x="209.5" y="228.6" font-size="9.0" letter-spacing="0.3" fill="#222">(1.3&quot;)</text><text x="188.3" y="243.4" font-size="9.0" letter-spacing="0.3" fill="#222">12 mm (0.5&quot;)</text><text x="187.5" y="257.0" font-size="9.0" letter-spacing="0.3" fill="#222">35 mm (1.4&quot;)</text><text x="187.5" y="269.8" font-size="9.0" letter-spacing="0.3" fill="#222">50 mm (2.0&quot;)</text><text x="357.3" y="214.9" font-size="9.0" letter-spacing="0.3" fill="#222">7 mm</text><text x="358.4" y="225.0" font-size="9.0" letter-spacing="0.3" fill="#222">(0.3&quot;)</text><text x="360.6" y="281.2" font-size="9.0" letter-spacing="0.3" fill="#222">25 mm</text><text x="364.0" y="290.6" font-size="9.0" letter-spacing="0.3" fill="#222">(1.0&quot;)</text><text x="284.3" y="293.4" font-size="9.0" letter-spacing="0.3" fill="#222">150 mm</text><text x="289.0" y="302.8" font-size="9.0" letter-spacing="0.3" fill="#222">(5.9&quot;)</text><text x="362.6" y="158.2" font-size="9.3" letter-spacing="0.4" fill="#2e3440">M6</text><text x="459.8" y="208.9" font-size="9.0" letter-spacing="0.3" fill="#222">180 mm</text><text x="465.0" y="219.9" font-size="9.0" letter-spacing="0.3" fill="#222">(7.1&quot;)</text><text x="594.7" y="210.3" font-size="9.0" letter-spacing="0.3" fill="#222">32 mm</text><text x="597.7" y="220.6" font-size="9.0" letter-spacing="0.3" fill="#222">(1.3&quot;)</text><text x="479.2" y="232.6" font-size="9.0" letter-spacing="0.3" fill="#222">232 mm</text><text x="485.0" y="243.0" font-size="9.0" letter-spacing="0.3" fill="#222">(9.1&quot;)</text></svg>
<div class="note">Design may change when using a fan and/or rated current &gt; 350 A</div>
<svg width="723" height="751" style="position:absolute;left:0;top:0"><rect x="13.90" y="352.70" width="701.00" height="22.10" fill="#03788e"/><rect x="14.50" y="394.80" width="699.80" height="21.00" fill="#6b7b89"/><rect x="14.50" y="436.36" width="699.80" height="20.56" fill="#e1e3e1"/><rect x="14.50" y="477.48" width="699.80" height="20.56" fill="#e1e3e1"/><rect x="14.50" y="518.60" width="699.80" height="20.56" fill="#e1e3e1"/><rect x="14.50" y="559.72" width="699.80" height="20.56" fill="#e1e3e1"/><rect x="14.50" y="600.84" width="699.80" height="20.56" fill="#e1e3e1"/><rect x="14.50" y="641.96" width="699.80" height="20.56" fill="#e1e3e1"/><rect x="14.50" y="683.08" width="699.80" height="20.56" fill="#e1e3e1"/><rect x="14.50" y="724.20" width="699.80" height="20.56" fill="#e1e3e1"/><rect x="13.85" y="394.15" width="701.10" height="1.30" fill="#333"/><rect x="13.85" y="415.15" width="701.10" height="1.30" fill="#333"/><rect x="13.85" y="435.71" width="701.10" height="1.30" fill="#333"/><rect x="13.85" y="456.27" width="701.10" height="1.30" fill="#333"/><rect x="13.85" y="476.83" width="701.10" height="1.30" fill="#333"/><rect x="13.85" y="497.39" width="701.10" height="1.30" fill="#333"/><rect x="13.85" y="517.95" width="701.10" height="1.30" fill="#333"/><rect x="13.85" y="538.51" width="701.10" height="1.30" fill="#333"/><rect x="13.85" y="559.07" width="701.10" height="1.30" fill="#333"/><rect x="13.85" y="579.63" width="701.10" height="1.30" fill="#333"/><rect x="13.85" y="600.19" width="701.10" height="1.30" fill="#333"/><rect x="13.85" y="620.75" width="701.10" height="1.30" fill="#333"/><rect x="13.85" y="641.31" width="701.10" height="1.30" fill="#333"/><rect x="13.85" y="661.87" width="701.10" height="1.30" fill="#333"/><rect x="13.85" y="682.43" width="701.10" height="1.30" fill="#333"/><rect x="13.85" y="702.99" width="701.10" height="1.30" fill="#333"/><rect x="13.85" y="723.55" width="701.10" height="1.30" fill="#333"/><rect x="13.85" y="744.11" width="701.10" height="1.30" fill="#333"/><rect x="13.85" y="374.80" width="1.30" height="370.61" fill="#333"/><rect x="110.95" y="374.80" width="1.30" height="370.61" fill="#333"/><rect x="186.45" y="394.80" width="1.30" height="350.61" fill="#333"/><rect x="261.75" y="374.80" width="1.30" height="370.61" fill="#333"/><rect x="336.95" y="394.80" width="1.30" height="350.61" fill="#333"/><rect x="412.55" y="374.80" width="1.30" height="370.61" fill="#333"/><rect x="487.95" y="394.80" width="1.30" height="350.61" fill="#333"/><rect x="563.15" y="374.80" width="1.30" height="370.61" fill="#333"/><rect x="638.85" y="394.80" width="1.30" height="350.61" fill="#333"/><rect x="713.65" y="374.80" width="1.30" height="370.61" fill="#333"/></svg>
<div class="th1" style="left:19.30px;top:358.70px">Dimensions</div>
<div class="th2" style="left:19.00px;top:379.10px">Type Current (A)</div>
<div class="th2" style="left:116.10px;top:379.10px">Width</div>
<div class="th2" style="left:266.90px;top:379.10px">Height</div>
<div class="th2" style="left:417.70px;top:379.10px">Depth</div>
<div class="th2" style="left:568.30px;top:379.10px">Weight</div>
<div class="th3" style="left:115.20px;top:399.80px">mm</div>
<div class="th3" style="left:190.70px;top:399.80px">in</div>
<div class="th3" style="left:266.00px;top:399.80px">mm</div>
<div class="th3" style="left:341.20px;top:399.80px">in</div>
<div class="th3" style="left:416.80px;top:399.80px">mm</div>
<div class="th3" style="left:492.20px;top:399.80px">in</div>
<div class="th3" style="left:567.40px;top:399.80px">kg</div>
<div class="th3" style="left:643.10px;top:399.80px">lb</div>
<div class="td" style="left:17.90px;top:420.80px">16</div>
<div class="td" style="left:115.00px;top:420.80px">150</div>
<div class="td" style="left:190.50px;top:420.80px">5.9</div>
<div class="td" style="left:265.80px;top:420.80px">320</div>
<div class="td" style="left:341.00px;top:420.80px">12.6</div>
<div class="td" style="left:416.60px;top:420.80px">232</div>
<div class="td" style="left:492.00px;top:420.80px">9.1</div>
<div class="td" style="left:567.20px;top:420.80px">6</div>
<div class="td" style="left:642.90px;top:420.80px">13.2</div>
<div class="td" style="left:17.90px;top:441.36px">37</div>
<div class="td" style="left:115.00px;top:441.36px">150</div>
<div class="td" style="left:190.50px;top:441.36px">5.9</div>
<div class="td" style="left:265.80px;top:441.36px">320</div>
<div class="td" style="left:341.00px;top:441.36px">12.6</div>
<div class="td" style="left:416.60px;top:441.36px">232</div>
<div class="td" style="left:492.00px;top:441.36px">9.1</div>
<div class="td" style="left:567.20px;top:441.36px">6</div>
<div class="td" style="left:642.90px;top:441.36px">13.2</div>
<div class="td" style="left:17.90px;top:461.92px">75</div>
<div class="td" style="left:115.00px;top:461.92px">150</div>
<div class="td" style="left:190.50px;top:461.92px">5.9</div>
<div class="td" style="left:265.80px;top:461.92px">320</div>
<div class="td" style="left:341.00px;top:461.92px">12.6</div>
<div class="td" style="left:416.60px;top:461.92px">232</div>
<div class="td" style="left:492.00px;top:461.92px">9.1</div>
<div class="td" style="left:567.20px;top:461.92px">6</div>
<div class="td" style="left:642.90px;top:461.92px">13.2</div>
<div class="td" style="left:17.90px;top:482.48px">110</div>
<div class="td" style="left:115.00px;top:482.48px">150</div>
<div class="td" style="left:190.50px;top:482.48px">5.9</div>
<div class="td" style="left:265.80px;top:482.48px">320</div>
<div class="td" style="left:341.00px;top:482.48px">12.6</div>
<div class="td" style="left:416.60px;top:482.48px">232</div>
<div class="td" style="left:492.00px;top:482.48px">9.1</div>
<div class="td" style="left:567.20px;top:482.48px">6</div>
<div class="td" style="left:642.90px;top:482.48px">13.2</div>
<div class="td" style="left:17.90px;top:503.04px">130</div>
<div class="td" style="left:115.00px;top:503.04px">200</div>
<div class="td" style="left:190.50px;top:503.04px">7.9</div>
<div class="td" style="left:265.80px;top:503.04px">320</div>
<div class="td" style="left:341.00px;top:503.04px">12.6</div>
<div class="td" style="left:416.60px;top:503.04px">232</div>
<div class="td" style="left:492.00px;top:503.04px">9.1</div>
<div class="td" style="left:567.20px;top:503.04px">8</div>
<div class="td" style="left:642.90px;top:503.04px">17.6</div>
<div class="td" style="left:17.90px;top:523.60px">170</div>
<div class="td" style="left:115.00px;top:523.60px">200</div>
<div class="td" style="left:190.50px;top:523.60px">7.9</div>
<div class="td" style="left:265.80px;top:523.60px">320</div>
<div class="td" style="left:341.00px;top:523.60px">12.6</div>
<div class="td" style="left:416.60px;top:523.60px">232</div>
<div class="td" style="left:492.00px;top:523.60px">9.1</div>
<div class="td" style="left:567.20px;top:523.60px">8</div>
<div class="td" style="left:642.90px;top:523.60px">17.6</div>
<div class="td" style="left:17.90px;top:544.16px">280</div>
<div class="td" style="left:115.00px;top:544.16px">200</div>
<div class="td" style="left:190.50px;top:544.16px">7.9</div>
<div class="td" style="left:265.80px;top:544.16px">370</div>
<div class="td" style="left:341.00px;top:544.16px">14.6</div>
<div class="td" style="left:416.60px;top:544.16px">232</div>
<div class="td" style="left:492.00px;top:544.16px">9.1</div>
<div class="td" style="left:567.20px;top:544.16px">9</div>
<div class="td" style="left:642.90px;top:544.16px">19.8</div>
<div class="td" style="left:17.90px;top:564.72px">350</div>
<div class="td" style="left:115.00px;top:564.72px">175</div>
<div class="td" style="left:190.50px;top:564.72px">6.9</div>
<div class="td" style="left:265.80px;top:564.72px">501</div>
<div class="td" style="left:341.00px;top:564.72px">19.7</div>
<div class="td" style="left:416.60px;top:564.72px">340</div>
<div class="td" style="left:492.00px;top:564.72px">13.4</div>
<div class="td" style="left:567.20px;top:564.72px">15</div>
<div class="td" style="left:642.90px;top:564.72px">33.1</div>
<div class="td" style="left:17.90px;top:585.28px">495</div>
<div class="td" style="left:115.00px;top:585.28px">175</div>
<div class="td" style="left:190.50px;top:585.28px">6.9</div>
<div class="td" style="left:265.80px;top:585.28px">501</div>
<div class="td" style="left:341.00px;top:585.28px">19.7</div>
<div class="td" style="left:416.60px;top:585.28px">340</div>
<div class="td" style="left:492.00px;top:585.28px">13.4</div>
<div class="td" style="left:567.20px;top:585.28px">15</div>
<div class="td" style="left:642.90px;top:585.28px">33.1</div>
<div class="td" style="left:17.90px;top:605.84px">650</div>
<div class="td" style="left:115.00px;top:605.84px">175</div>
<div class="td" style="left:190.50px;top:605.84px">6.9</div>
<div class="td" style="left:265.80px;top:605.84px">501</div>
<div class="td" style="left:341.00px;top:605.84px">19.7</div>
<div class="td" style="left:416.60px;top:605.84px">340</div>
<div class="td" style="left:492.00px;top:605.84px">13.4</div>
<div class="td" style="left:567.20px;top:605.84px">15</div>
<div class="td" style="left:642.90px;top:605.84px">33.0</div>
<div class="td" style="left:17.90px;top:626.40px">780</div>
<div class="td" style="left:115.00px;top:626.40px">242</div>
<div class="td" style="left:190.50px;top:626.40px">9.5</div>
<div class="td" style="left:265.80px;top:626.40px">787</div>
<div class="td" style="left:341.00px;top:626.40px">31</div>
<div class="td" style="left:416.60px;top:626.40px">505</div>
<div class="td" style="left:492.00px;top:626.40px">19.9</div>
<div class="td" style="left:567.20px;top:626.40px">35</div>
<div class="td" style="left:642.90px;top:626.40px">77.2</div>
<div class="td" style="left:17.90px;top:646.96px">1000</div>
<div class="td" style="left:115.00px;top:646.96px">242</div>
<div class="td" style="left:190.50px;top:646.96px">9.5</div>
<div class="td" style="left:265.80px;top:646.96px">787</div>
<div class="td" style="left:341.00px;top:646.96px">31</div>
<div class="td" style="left:416.60px;top:646.96px">505</div>
<div class="td" style="left:492.00px;top:646.96px">19.9</div>
<div class="td" style="left:567.20px;top:646.96px">35</div>
<div class="td" style="left:642.90px;top:646.96px">77.2</div>
<div class="td" style="left:17.90px;top:667.52px">1500</div>
<div class="td" style="left:115.00px;top:667.52px">242</div>
<div class="td" style="left:190.50px;top:667.52px">9.5</div>
<div class="td" style="left:265.80px;top:667.52px">787</div>
<div class="td" style="left:341.00px;top:667.52px">31</div>
<div class="td" style="left:416.60px;top:667.52px">505</div>
<div class="td" style="left:492.00px;top:667.52px">19.9</div>
<div class="td" style="left:567.20px;top:667.52px">35</div>
<div class="td" style="left:642.90px;top:667.52px">77.2</div>
<div class="td" style="left:17.90px;top:688.08px">2100</div>
<div class="td" style="left:115.00px;top:688.08px">522</div>
<div class="td" style="left:190.50px;top:688.08px">20.5</div>
<div class="td" style="left:265.80px;top:688.08px">577</div>
<div class="td" style="left:341.00px;top:688.08px">22.7</div>
<div class="td" style="left:416.60px;top:688.08px">445</div>
<div class="td" style="left:492.00px;top:688.08px">17.5</div>
<div class="td" style="left:567.20px;top:688.08px">50</div>
<div class="td" style="left:642.90px;top:688.08px">110.2</div>
<div class="td" style="left:17.90px;top:708.64px">2900</div>
<div class="td" style="left:115.00px;top:708.64px">593</div>
<div class="td" style="left:190.50px;top:708.64px">23.3</div>
<div class="td" style="left:265.80px;top:708.64px">577</div>
<div class="td" style="left:341.00px;top:708.64px">22.7</div>
<div class="td" style="left:416.60px;top:708.64px">473</div>
<div class="td" style="left:492.00px;top:708.64px">18.6</div>
<div class="td" style="left:567.20px;top:708.64px">62</div>
<div class="td" style="left:642.90px;top:708.64px">136.7</div>
<div class="td" style="left:17.90px;top:729.20px">5000<sup>1</sup></div>
<div class="td" style="left:115.00px;top:729.20px">593</div>
<div class="td" style="left:190.50px;top:729.20px">23.3</div>
<div class="td" style="left:265.80px;top:729.20px">837</div>
<div class="td" style="left:341.00px;top:729.20px">33.0</div>
<div class="td" style="left:416.60px;top:729.20px">474</div>
<div class="td" style="left:492.00px;top:729.20px">18.6</div>
<div class="td" style="left:567.20px;top:729.20px">107</div>
<div class="td" style="left:642.90px;top:729.20px">235.9</div>
</body></html>
